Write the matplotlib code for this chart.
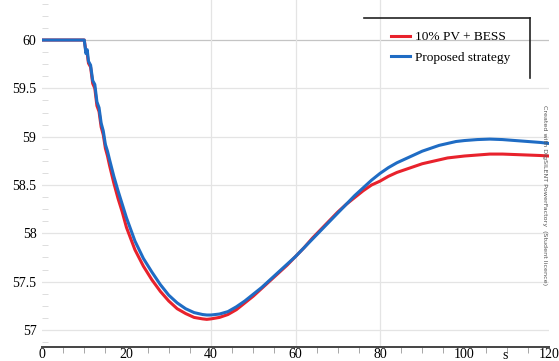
import numpy as np
import matplotlib
matplotlib.use("Agg")
import matplotlib.pyplot as plt
from matplotlib.ticker import MultipleLocator
from matplotlib.lines import Line2D

# time axis (s)
t = [0, 10, 10.4, 10.7, 11.0, 11.5, 12.0, 12.5, 13.0, 13.5, 14.0, 14.5, 15.0, 15.5,
     16, 17, 18, 19, 20, 22, 24, 26, 28, 30, 32, 34, 36, 38, 39, 40, 42, 44, 46, 48,
     50, 52, 54, 56, 58, 60, 62, 64, 66, 68, 70, 72, 74, 76, 78, 80, 82, 84, 86, 88,
     90, 92, 94, 96, 98, 100, 103, 106, 109, 112, 115, 118, 120]

# frequency (Hz), 10% PV + BESS
f_pv_bess = [60, 60, 59.88, 59.86, 59.76, 59.72, 59.55, 59.50, 59.32, 59.26, 59.10, 59.02,
             58.88, 58.80, 58.70, 58.52, 58.36, 58.22, 58.06, 57.83, 57.66, 57.52, 57.40,
             57.30, 57.22, 57.17, 57.13, 57.115, 57.11, 57.115, 57.13, 57.16, 57.21, 57.28,
             57.35, 57.43, 57.51, 57.59, 57.67, 57.76, 57.85, 57.95, 58.04, 58.13, 58.22,
             58.30, 58.37, 58.44, 58.50, 58.54, 58.59, 58.63, 58.66, 58.69, 58.72, 58.74,
             58.76, 58.78, 58.79, 58.80, 58.81, 58.82, 58.82, 58.815, 58.81, 58.805, 58.80]

# frequency (Hz), proposed strategy
f_proposed = [60, 60, 59.86, 59.90, 59.78, 59.74, 59.58, 59.54, 59.36, 59.30, 59.14, 59.06,
              58.92, 58.85, 58.76, 58.59, 58.44, 58.30, 58.16, 57.92, 57.74, 57.60, 57.47,
              57.36, 57.28, 57.22, 57.18, 57.16, 57.155, 57.155, 57.165, 57.19, 57.24, 57.30,
              57.37, 57.44, 57.52, 57.60, 57.68, 57.76, 57.85, 57.94, 58.03, 58.12, 58.21,
              58.30, 58.39, 58.47, 58.55, 58.62, 58.68, 58.73, 58.77, 58.81, 58.85, 58.88,
              58.91, 58.93, 58.95, 58.96, 58.97, 58.975, 58.97, 58.96, 58.95, 58.94, 58.93]

labels = ['10% PV + BESS', 'Proposed strategy']
colors = ['#e8222c', '#1f6cc4']
yticks = [60, 59.5, 59, 58.5, 58, 57.5, 57]
ytick_labels = ['60', '59.5', '59', '58.5', '58', '57.5', '57']

plt.rcParams['font.family'] = ['Liberation Serif', 'DejaVu Serif']

fig = plt.figure(figsize=(5.59, 3.61), dpi=100)
ax = fig.add_axes([42/559, 1-347/361, 507/559, 347/361])

# grid
for y in yticks[1:]:
    ax.axhline(y, color='#e4e4e4', lw=0.9, zorder=0)
ax.axhline(60, color='#c4c4c4', lw=0.9, zorder=0)
for x in [40, 60, 80]:
    ax.axvline(x, color='#e4e4e4', lw=0.9, zorder=0)

ax.plot(t, f_pv_bess, color=colors[0], lw=2.2, zorder=3)
ax.plot(t, f_proposed, color=colors[1], lw=2.2, zorder=4)

ax.set_xlim(0, 120)
ax.set_ylim(56.824, 60.414)

ax.xaxis.set_major_locator(MultipleLocator(20))
ax.xaxis.set_minor_locator(MultipleLocator(5))
ax.yaxis.set_minor_locator(MultipleLocator(0.125))
ax.set_yticks(yticks)
ax.set_yticklabels(ytick_labels)

for s in ['left', 'right', 'top']:
    ax.spines[s].set_visible(False)
ax.spines['bottom'].set_color('#444444')
ax.spines['bottom'].set_linewidth(1.4)

ax.tick_params(axis='x', which='major', length=0, pad=1, labelsize=10)
ax.tick_params(axis='x', which='minor', length=4, color='#999999', direction='out')
ax.tick_params(axis='y', which='major', length=0, pad=4, labelsize=10)
ax.tick_params(axis='y', which='minor', length=4, color='#d8d8d8', direction='in')

ax.text(109.6, -0.006, 's', fontsize=10, ha='center', va='top',
        transform=ax.get_xaxis_transform(), clip_on=False)

# legend with only top/right frame edges
handles = [Line2D([], [], color=c, lw=2.2) for c in colors]
ax.legend(handles, labels, loc='upper left', bbox_to_anchor=(0.665, 0.945),
          frameon=False, fontsize=9.6, handlelength=1.45, handletextpad=0.35,
          labelspacing=0.62)
fig.add_artist(Line2D([364/559, 530/559], [1-18/361, 1-18/361], color='#222222', lw=1.2))
fig.add_artist(Line2D([530/559, 530/559], [1-18/361, 1-78/361], color='#222222', lw=1.2))

fig.text(545/559, 1-195/361, 'Created with DIgSILENT PowerFactory  (Student licence)',
         rotation=270, fontsize=4.6, color='#555555', ha='center', va='center',
         family='DejaVu Sans')

fig.savefig('out.png', dpi=100)
